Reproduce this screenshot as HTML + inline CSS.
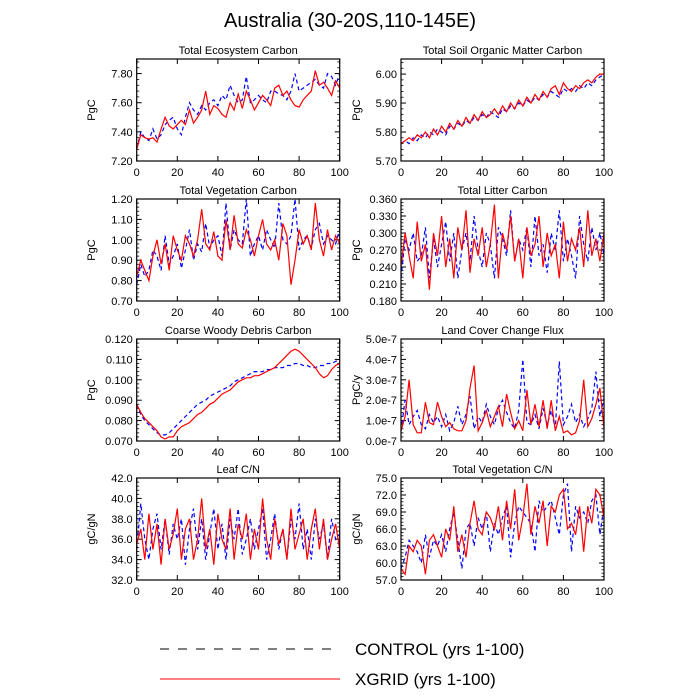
<!DOCTYPE html>
<html><head><meta charset="utf-8"><style>
body{margin:0;background:#fff;}
svg{display:block;font-family:"Liberation Sans",sans-serif;}
</style></head><body>
<svg id="chart" width="700" height="700" viewBox="0 0 700 700">
<text x="350" y="27" font-size="20" text-anchor="middle">Australia (30-20S,110-145E)</text>
<g id="panels"></g>
<g>
<line x1="160" y1="649" x2="340" y2="649" stroke="#000" stroke-width="1" stroke-dasharray="9,9"/>
<text x="355" y="655" font-size="17">CONTROL (yrs 1-100)</text>
<line x1="160" y1="679" x2="340" y2="679" stroke="#f00" stroke-width="1"/>
<text x="355" y="685" font-size="17">XGRID (yrs 1-100)</text>
</g>
</svg>
<script>
const years = [];
for (let i = 0; i <= 100; i += 2) years.push(i);
const xTicks = [0,20,40,60,80,100];

const ecoCtrl=[7.28,7.40,7.36,7.34,7.42,7.35,7.38,7.45,7.48,7.50,7.42,7.38,7.50,7.60,7.55,7.52,7.58,7.55,7.60,7.62,7.58,7.65,7.62,7.72,7.65,7.60,7.62,7.78,7.60,7.62,7.65,7.62,7.60,7.68,7.68,7.66,7.65,7.62,7.68,7.80,7.68,7.70,7.72,7.74,7.76,7.72,7.70,7.80,7.78,7.72,7.80];
const ecoXg=[7.28,7.38,7.36,7.35,7.36,7.33,7.42,7.50,7.44,7.42,7.45,7.48,7.45,7.55,7.46,7.50,7.55,7.68,7.52,7.58,7.56,7.52,7.50,7.60,7.55,7.66,7.56,7.68,7.62,7.55,7.60,7.65,7.62,7.58,7.70,7.72,7.65,7.68,7.62,7.58,7.57,7.62,7.65,7.68,7.82,7.72,7.74,7.70,7.65,7.75,7.70];
const somCtrl=[5.76,5.77,5.76,5.78,5.77,5.79,5.78,5.80,5.79,5.81,5.80,5.79,5.82,5.81,5.83,5.82,5.84,5.83,5.85,5.84,5.86,5.85,5.87,5.86,5.85,5.88,5.87,5.89,5.88,5.90,5.89,5.91,5.90,5.92,5.91,5.93,5.92,5.94,5.93,5.92,5.95,5.94,5.95,5.94,5.96,5.95,5.97,5.96,5.98,5.99,6.00];
const somXg=[5.76,5.77,5.78,5.77,5.79,5.78,5.80,5.78,5.81,5.79,5.82,5.80,5.83,5.81,5.84,5.82,5.85,5.83,5.86,5.84,5.87,5.85,5.86,5.88,5.86,5.89,5.87,5.90,5.88,5.91,5.89,5.92,5.90,5.93,5.91,5.94,5.92,5.95,5.96,5.93,5.97,5.95,5.94,5.96,5.95,5.97,5.98,5.97,5.99,6.00,6.00];
const vegCtrl=[0.78,0.88,0.82,0.85,0.95,0.92,0.85,1.02,0.88,0.92,0.98,0.86,0.95,1.05,0.90,0.98,0.94,1.08,0.96,1.00,1.02,0.92,1.18,0.95,1.05,1.00,0.98,1.20,0.92,0.98,1.02,0.95,1.05,1.00,0.96,1.18,1.00,0.98,1.02,1.20,0.95,1.00,1.02,0.96,1.05,1.08,0.98,1.02,1.00,0.98,1.05];
const vegXg=[0.82,0.90,0.85,0.80,0.92,1.00,0.88,0.98,0.85,1.02,0.95,0.90,1.02,0.98,0.92,1.00,1.15,0.98,0.95,1.04,0.92,0.90,1.10,0.95,1.12,0.98,0.96,1.05,1.00,0.92,1.02,1.10,0.98,0.95,1.00,0.90,1.08,1.02,0.78,0.90,1.05,0.98,1.02,0.95,1.18,1.00,0.92,1.05,0.95,1.02,0.98];
const litCtrl=[0.22,0.29,0.27,0.30,0.25,0.26,0.31,0.22,0.29,0.24,0.28,0.32,0.25,0.30,0.22,0.27,0.30,0.25,0.33,0.27,0.24,0.30,0.28,0.22,0.31,0.29,0.26,0.34,0.25,0.29,0.27,0.31,0.24,0.33,0.26,0.28,0.23,0.30,0.27,0.34,0.25,0.29,0.26,0.22,0.33,0.28,0.25,0.31,0.27,0.30,0.26];
const litXg=[0.24,0.30,0.26,0.22,0.32,0.25,0.28,0.20,0.30,0.26,0.33,0.24,0.29,0.22,0.31,0.27,0.34,0.23,0.29,0.26,0.31,0.24,0.28,0.35,0.22,0.30,0.27,0.33,0.25,0.29,0.22,0.31,0.26,0.28,0.33,0.24,0.30,0.26,0.28,0.22,0.32,0.25,0.29,0.27,0.31,0.24,0.34,0.26,0.29,0.25,0.30];
const cwdCtrl=[0.088,0.083,0.080,0.078,0.076,0.074,0.073,0.073,0.074,0.076,0.078,0.080,0.082,0.084,0.086,0.088,0.089,0.090,0.092,0.093,0.094,0.095,0.096,0.097,0.099,0.100,0.101,0.102,0.103,0.104,0.104,0.104,0.105,0.105,0.106,0.106,0.106,0.107,0.107,0.108,0.108,0.107,0.107,0.106,0.106,0.107,0.107,0.108,0.108,0.109,0.110];
const cwdXg=[0.088,0.084,0.081,0.079,0.077,0.075,0.072,0.071,0.072,0.072,0.075,0.077,0.078,0.079,0.081,0.083,0.084,0.086,0.088,0.089,0.091,0.093,0.094,0.095,0.097,0.099,0.100,0.101,0.101,0.102,0.102,0.103,0.104,0.105,0.106,0.108,0.110,0.112,0.114,0.115,0.114,0.112,0.110,0.108,0.106,0.103,0.101,0.102,0.105,0.107,0.108];
const lccCtrl=[0.5,2.0,0.8,1.2,1.5,0.8,0.6,1.3,0.9,1.2,0.7,1.3,0.5,0.9,1.7,0.8,1.3,2.2,0.6,1.2,0.9,1.8,1.2,0.8,1.6,2.0,1.4,0.9,0.6,1.5,4.0,0.9,0.8,1.3,0.6,1.6,0.8,1.5,0.6,3.9,0.8,1.2,1.8,0.9,1.3,0.7,1.1,1.6,3.4,1.2,2.1];
const lccXg=[0.5,1.2,3.0,0.8,0.4,0.4,1.9,0.9,0.8,1.9,1.2,0.7,0.9,0.6,0.5,0.5,1.0,2.6,3.7,0.5,0.9,1.5,0.7,1.2,1.7,0.7,2.3,1.4,0.6,1.0,0.5,2.5,0.8,1.8,0.7,2.0,0.6,2.0,0.5,1.2,0.4,0.5,0.3,0.4,1.0,3.0,0.7,1.1,1.8,2.6,0.6];
const leafCtrl=[35,39.5,36,34,37,38.5,35,38,34.5,37.5,36,38,33.5,37,39,35,38,34,36.5,39,35,37.5,34,38,36,39,34.5,36,38,35,37,39,34,36,38.5,35,37,34,38,36,39.5,35,37,34,38,36,37.5,34,38,36,36.5];
const leafXg=[35.5,37,34,38.5,35,37.5,33.5,38,35,36.5,39,34,37,38,34,36,40,35,37,33.5,38.5,36,35,39,34,37.5,36,38.5,34,37,35,40,36,34,38,35.5,37,34,39,35,36.5,38,34,37,39,35,38,34,36,37.5,35];
const vcnCtrl=[59,61,64,63,62,60,65,61,64,63,65,62,66,69,64,59,66,67,63,68,66,69,62,67,65,68,70,61,67,70,69,68,67,62,71,69,70,71,68,65,72,74,62,70,68,69,67,71,72,65,70];
const vcnXg=[59,58,63,62,64,63,58,64,65,63,61,66,64,70,62,65,61,67,71,66,65,69,68,66,70,64,71,66,73,64,68,74,65,70,67,71,63,70,69,72,73,66,67,65,70,62,70,67,73,72,68];

const ecoTicks=["7.20","7.40","7.60","7.80"];
const somTicks=["5.70","5.80","5.90","6.00"];
const vegTicks=["0.70","0.80","0.90","1.00","1.10","1.20"];
const litTicks=["0.180","0.210","0.240","0.270","0.300","0.330","0.360"];
const cwdTicks=["0.070","0.080","0.090","0.100","0.110","0.120"];
const lccTicks=["0.0e-7","1.0e-7","2.0e-7","3.0e-7","4.0e-7","5.0e-7"];
const leafTicks=["32.0","34.0","36.0","38.0","40.0","42.0"];
const vcnTicks=["57.0","60.0","63.0","66.0","69.0","72.0","75.0"];

const panels=[
 {id:"eco",title:"Total Ecosystem Carbon",yt:"PgC",col:0,row:0,min:7.2,max:7.9,step:0.2,ticks:ecoTicks,c:ecoCtrl,x:ecoXg},
 {id:"som",title:"Total Soil Organic Matter Carbon",yt:"PgC",col:1,row:0,min:5.7,max:6.052,step:0.1,ticks:somTicks,c:somCtrl,x:somXg},
 {id:"veg",title:"Total Vegetation Carbon",yt:"PgC",col:0,row:1,min:0.7,max:1.2,step:0.1,ticks:vegTicks,c:vegCtrl,x:vegXg},
 {id:"lit",title:"Total Litter Carbon",yt:"PgC",col:1,row:1,min:0.18,max:0.36,step:0.03,ticks:litTicks,c:litCtrl,x:litXg},
 {id:"cwd",title:"Coarse Woody Debris Carbon",yt:"PgC",col:0,row:2,min:0.07,max:0.12,step:0.01,ticks:cwdTicks,c:cwdCtrl,x:cwdXg},
 {id:"lcc",title:"Land Cover Change Flux",yt:"PgC/y",col:1,row:2,min:0,max:5,step:1,ticks:lccTicks,c:lccCtrl,x:lccXg},
 {id:"leaf",title:"Leaf C/N",yt:"gC/gN",col:0,row:3,min:32,max:42,step:2,ticks:leafTicks,c:leafCtrl,x:leafXg},
 {id:"vcn",title:"Total Vegetation C/N",yt:"gC/gN",col:1,row:3,min:57,max:75,step:3,ticks:vcnTicks,c:vcnCtrl,x:vcnXg}
];
const NS="http://www.w3.org/2000/svg";
const root=document.getElementById("panels");
function mk(tag,attrs,parent){const e=document.createElementNS(NS,tag);for(const k in attrs)e.setAttribute(k,attrs[k]);parent.appendChild(e);return e;}
const lefts=[136.7,401],tops=[59,199,339,478],W=203,H=102;
panels.forEach(p=>{
 const L=lefts[p.col],T=tops[p.row],B=T+H,R=L+W;
 const g=mk("g",{},root);
 
 
 const xs=v=>L+v/100*W;
 const ys=v=>B-(v-p.min)/(p.max-p.min)*H;
 const t=mk("text",{x:(L+R)/2,y:T-5,"font-size":11,"text-anchor":"middle"},g);t.textContent=p.title;
 
 
 const yx=p.col===0?95:360;
 const yt=mk("text",{x:yx,y:(T+B)/2,"font-size":11,"text-anchor":"middle",transform:`rotate(-90 ${yx} ${(T+B)/2})`},g);yt.textContent=p.yt;
 
 
 p.ticks.forEach((lab,i)=>{
  const v=p.min+i*p.step,y=ys(v);
  mk("line",{x1:L,y1:y,x2:L+5,y2:y,stroke:"#000","stroke-width":1},g);
  mk("line",{x1:R,y1:y,x2:R-5,y2:y,stroke:"#000","stroke-width":1},g);
  const tl=mk("text",{x:L-4,y:y+4,"font-size":11,"text-anchor":"end"},g);tl.textContent=lab;
  
  
  for(let k=1;k<5;k++){const vv=v+k*p.step/5;if(vv>p.max+1e-9)break;const yy=ys(vv);
   mk("line",{x1:L,y1:yy,x2:L+2.5,y2:yy,stroke:"#000","stroke-width":0.8},g);
   mk("line",{x1:R,y1:yy,x2:R-2.5,y2:yy,stroke:"#000","stroke-width":0.8},g);}
 });
 xTicks.forEach(v=>{const x=xs(v);
  mk("line",{x1:x,y1:B,x2:x,y2:B-5,stroke:"#000","stroke-width":1},g);
  mk("line",{x1:x,y1:T,x2:x,y2:T+5,stroke:"#000","stroke-width":1},g);
  const tl=mk("text",{x:x,y:B+15,"font-size":11,"text-anchor":"middle"},g);tl.textContent=v;
  
  
 });
 const pts=a=>a.map((v,i)=>xs(years[i]).toFixed(1)+","+ys(v).toFixed(1)).join(" ");
 const lc=mk("polyline",{points:pts(p.c),fill:"none",stroke:"#00f","stroke-width":1.2,"stroke-dasharray":"4,3"},g);
 
 
 const lx=mk("polyline",{points:pts(p.x),fill:"none",stroke:"#f00","stroke-width":1.2},g);
 
 
 const fr=mk("rect",{x:L,y:T,width:W,height:H,fill:"none",stroke:"#000","stroke-width":1.2},g);
 
 
});
</script>
</body></html>
